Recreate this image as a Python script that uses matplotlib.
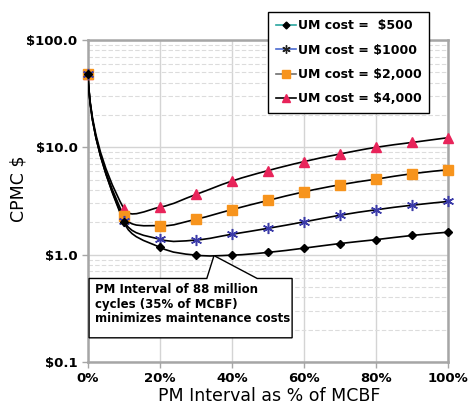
import numpy as np
import matplotlib
matplotlib.use("Agg")
import matplotlib.pyplot as plt
from matplotlib.path import Path
from matplotlib.patches import PathPatch, Polygon
from matplotlib.lines import Line2D
from matplotlib.ticker import FixedLocator, LogLocator, NullFormatter

# PM interval (% of MCBF) and cost per million cycles for each UM cost
pm_pct = [0, 10, 20, 30, 40, 50, 60, 70, 80, 90, 100]
cost_500 = [48, 2.0, 1.17, 0.99, 0.99, 1.05, 1.15, 1.27, 1.38, 1.51, 1.62]
cost_1000 = [48, 2.08, 1.39, 1.37, 1.55, 1.76, 2.02, 2.33, 2.62, 2.89, 3.13]
cost_2000 = [48, 2.28, 1.86, 2.14, 2.63, 3.2, 3.85, 4.48, 5.05, 5.68, 6.18]
cost_4000 = [48, 2.67, 2.77, 3.64, 4.85, 6.07, 7.36, 8.67, 10.0, 11.1, 12.3]

series_labels = ["UM cost =  $500", "UM cost = $1000", "UM cost = $2,000", "UM cost = $4,000"]
xtick_labels = ["0%", "20%", "40%", "60%", "80%", "100%"]
ytick_labels = ["$0.1", "$1.0", "$10.0", "$100.0"]


def smooth_path(x, y, sx=3.6, sy=107.0, k=0.4):
    # Excel-like smoothed line: beziers in (x, log10 y) space, tangents scaled
    # by neighbouring chord lengths measured on screen
    P = np.column_stack([np.asarray(x, float), np.log10(y)])
    S = np.array([sx, sy])
    n = len(P)
    c_out = [None] * n
    c_in = [None] * n
    for i in range(n):
        if i == 0:
            d = P[1] - P[0]
            c_out[i] = P[0] + np.array([d[0] * 0.05, d[1] * 0.35])
            continue
        if i == n - 1:
            c_in[i] = P[i] - (P[i] - P[i - 1]) * k * 0.6
            continue
        T = P[i + 1] - P[i - 1]
        d_in = np.hypot(*((P[i] - P[i - 1]) * S))
        d_out = np.hypot(*((P[i + 1] - P[i]) * S))
        c_in[i] = P[i] - T * k * d_in / (d_in + d_out)
        c_out[i] = P[i] + T * k * d_out / (d_in + d_out)
    verts = [P[0]]
    codes = [Path.MOVETO]
    for i in range(n - 1):
        verts += [c_out[i], c_in[i + 1], P[i + 1]]
        codes += [Path.CURVE4] * 3
    verts = np.array(verts)
    verts[:, 1] = 10 ** verts[:, 1]
    return Path(verts, codes)


fig = plt.figure(figsize=(4.69, 4.13), dpi=100)
ax = fig.add_axes([88 / 469, 1 - 362 / 413, 360 / 469, 322 / 413])
ax.set_yscale("log")
ax.set_xlim(0, 100)
ax.set_ylim(0.1, 100)

styles = [
    dict(marker="D", color="black", ms=4.2),
    dict(marker=(6, 2, 0), color="#3b3ba8", ms=8, mew=1.1),
    dict(marker="s", color="#f7941d", ms=6.5),
    dict(marker="^", color="#e8245a", ms=7),
]
all_series = [cost_500, cost_1000, cost_2000, cost_4000]

for vals in all_series:
    ax.add_patch(PathPatch(smooth_path(pm_pct, vals), fill=False,
                           edgecolor="black", lw=1.2, zorder=3))
for vals, st in zip(all_series[::-1], styles[::-1]):
    ax.plot(pm_pct, vals, linestyle="none", zorder=4, clip_on=False,
            mec=st["color"], mfc=st["color"], marker=st["marker"],
            ms=st["ms"], mew=st.get("mew", 1))

# axes styling
ax.xaxis.set_major_locator(FixedLocator([0, 20, 40, 60, 80, 100]))
ax.set_xticklabels(xtick_labels)
ax.yaxis.set_major_locator(FixedLocator([0.1, 1, 10, 100]))
ax.set_yticklabels(ytick_labels)
ax.yaxis.set_minor_locator(LogLocator(base=10, subs=np.arange(2, 10)))
ax.yaxis.set_minor_formatter(NullFormatter())
ax.grid(True, which="major", color="#d4d4d4", lw=1)
ax.grid(True, which="minor", axis="y", color="#dcdcdc", lw=0.8, linestyle=(0, (4, 2)))
ax.set_axisbelow(True)
for sp in ax.spines.values():
    sp.set_color("#a6a6a6")
    sp.set_linewidth(1.8)
ax.tick_params(which="major", length=4, color="#a6a6a6", width=1)
ax.tick_params(which="minor", length=0)
for lab in ax.get_xticklabels() + ax.get_yticklabels():
    lab.set_fontweight("bold")
    lab.set_fontsize(9.5)
ax.set_xlabel("PM Interval as % of MCBF", fontsize=12.5)
ax.set_ylabel("CPMC $", fontsize=12.5)
ax.xaxis.set_label_coords(0.504, -0.078)
ax.yaxis.set_label_coords(-0.167, 0.537)

# callout
callout = Polygon([(0.3, 0.60), (33, 0.60), (35, 0.98), (47, 0.60), (56.7, 0.60),
                   (56.7, 0.168), (0.3, 0.168)], closed=True,
                  facecolor="white", edgecolor="black", lw=1, zorder=6)
ax.add_patch(callout)
ax.text(2, 0.54, "PM Interval of 88 million\ncycles (35% of MCBF)\nminimizes maintenance costs",
        fontsize=8.5, fontweight="bold", va="top", ha="left", linespacing=1.15, zorder=7)

# legend
handles = [
    Line2D([], [], color="#2aa5a0", marker="D", mfc="black", mec="black", ms=3.5, lw=1.2),
    Line2D([], [], color="#4a6ad0", marker=(6, 2, 0), mec="#222222", ms=6, lw=1.2),
    Line2D([], [], color="#707070", marker="s", mfc="#f7941d", mec="#f7941d", ms=6, lw=1.2),
    Line2D([], [], color="black", marker="^", mfc="#e8245a", mec="#e8245a", ms=6, lw=1.2),
]
leg = ax.legend(handles, series_labels, loc="upper left",
                bbox_to_anchor=(268 / 469, 1 - 12 / 413), bbox_transform=fig.transFigure,
                borderaxespad=0, fancybox=False, framealpha=1, edgecolor="black",
                prop=dict(weight="bold", size=9), handlelength=1.6, handletextpad=0.2,
                labelspacing=0.9, borderpad=0.6)
leg.get_frame().set_linewidth(1)
leg.set_zorder(8)

fig.savefig("out.png", dpi=100)
